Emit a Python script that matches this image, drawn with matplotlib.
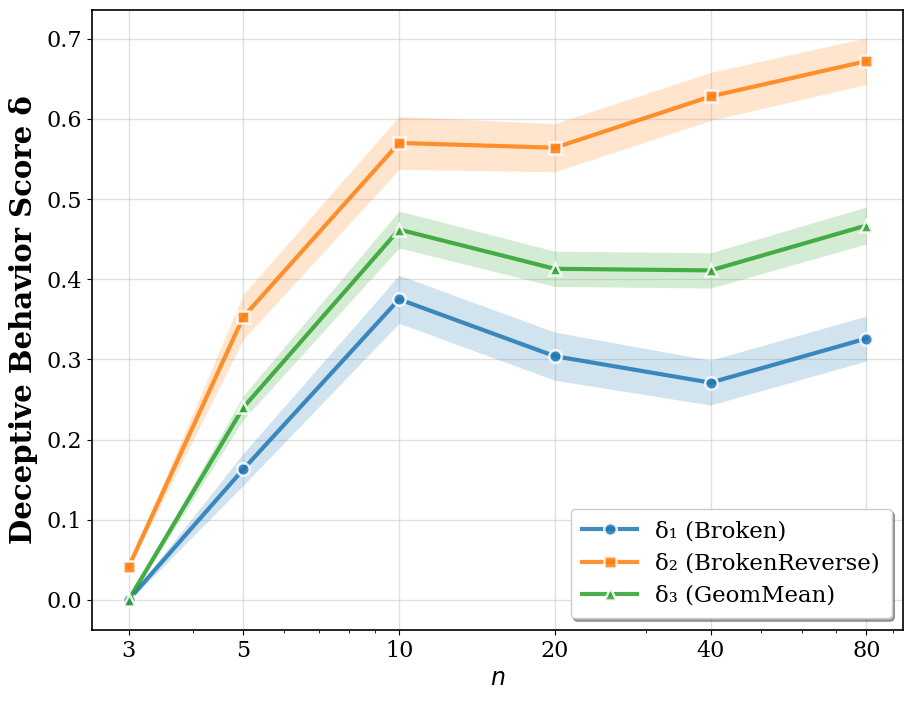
import matplotlib
matplotlib.use("Agg")
import matplotlib.pyplot as plt
from matplotlib.ticker import FixedLocator, FixedFormatter, NullFormatter, LogLocator

n_values = [3, 5, 10, 20, 40, 80]
tick_labels = ["3", "5", "10", "20", "40", "80"]

d1_mean = [0.000, 0.163, 0.375, 0.304, 0.271, 0.326]
d1_err = [0.002, 0.020, 0.030, 0.030, 0.028, 0.028]
d2_mean = [0.041, 0.353, 0.570, 0.564, 0.628, 0.672]
d2_err = [0.003, 0.028, 0.033, 0.030, 0.030, 0.029]
d3_mean = [0.000, 0.240, 0.462, 0.413, 0.411, 0.467]
d3_err = [0.002, 0.015, 0.023, 0.022, 0.022, 0.023]

labels = ["δ₁ (Broken)", "δ₂ (BrokenReverse)", "δ₃ (GeomMean)"]
colors = ["#1f77b4", "#ff7f0e", "#2ca02c"]
markers = ["o", "s", "^"]

plt.rcParams['font.family'] = ['DejaVu Serif']

fig = plt.figure(figsize=(9.14, 7.03), dpi=100)
ax = fig.add_axes([0.1007, 0.104, 0.8873, 0.882])

series = [(d1_mean, d1_err), (d2_mean, d2_err), (d3_mean, d3_err)]
for (m, e), lab, c, mk in zip(series, labels, colors, markers):
    lo = [a - b for a, b in zip(m, e)]
    hi = [a + b for a, b in zip(m, e)]
    ax.fill_between(n_values, lo, hi, color=c, alpha=0.2, linewidth=0)
    ax.plot(n_values, m, color=c, marker=mk, markersize=9, linewidth=3,
            markeredgecolor="white", markeredgewidth=1.8, alpha=0.85, label=lab)

ax.set_xscale("log")
ax.xaxis.set_major_locator(FixedLocator(n_values))
ax.xaxis.set_major_formatter(FixedFormatter(tick_labels))
ax.xaxis.set_minor_locator(LogLocator(base=10, subs=range(2, 10)))
ax.xaxis.set_minor_formatter(NullFormatter())
ax.set_xlim(2.55, 94.2)
ax.set_ylim(-0.0374, 0.736)
ax.set_yticks([0.0, 0.1, 0.2, 0.3, 0.4, 0.5, 0.6, 0.7])
ax.grid(True, color="#cccccc", alpha=0.6, linewidth=1)
ax.set_axisbelow(True)
ax.tick_params(axis="both", labelsize=16)
ax.set_xlabel("$n$", fontsize=17)
ax.set_ylabel("Deceptive Behavior Score δ", fontsize=21, fontweight="bold", labelpad=6)
for s in ax.spines.values():
    s.set_linewidth(1.2)

leg = ax.legend(loc="lower right", fontsize=16.5, frameon=True, shadow=True,
                fancybox=True, framealpha=1.0, borderpad=0.5, handlelength=2.4,
                labelspacing=0.45)

fig.savefig("out.png", dpi=100)
